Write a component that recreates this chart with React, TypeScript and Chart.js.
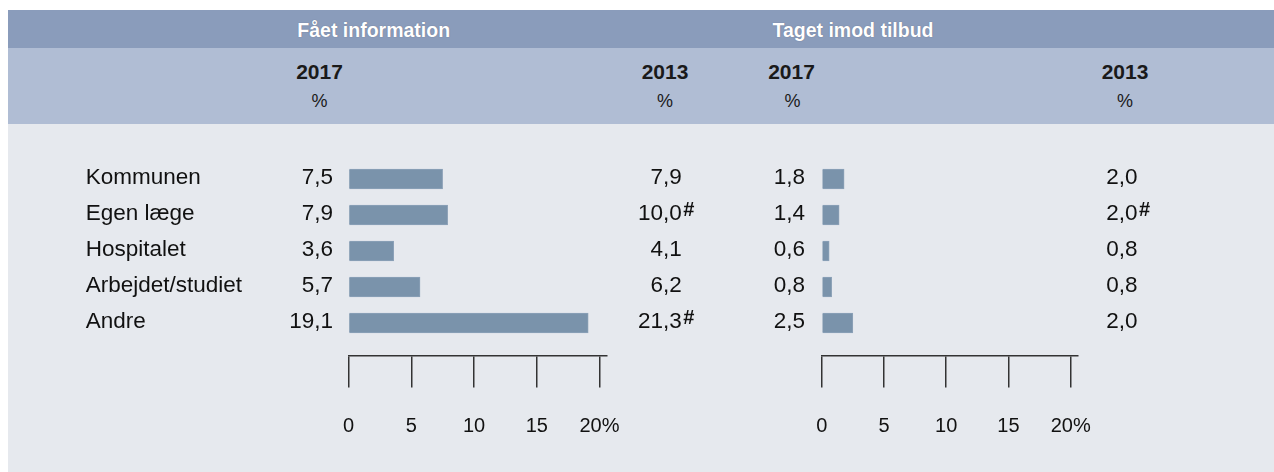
import React, { useEffect, useRef } from "react";
import { Chart, registerables } from "chart.js";

Chart.register(...registerables);

const categories = ["Kommunen", "Egen læge", "Hospitalet", "Arbejdet/studiet", "Andre"];
const infoValues2017 = [7.5, 7.9, 3.6, 5.7, 19.1];
const infoValues2013 = [7.9, 10.0, 4.1, 6.2, 21.3];
const infoMarks2013 = ["", "#", "", "", "#"];
const offerValues2017 = [1.8, 1.4, 0.6, 0.8, 2.5];
const offerValues2013 = [2.0, 2.0, 0.8, 0.8, 2.0];
const offerMarks2013 = ["", "#", "", "", ""];
const axisTicks = [0, 5, 10, 15, 20];
const axisTickLabels = ["0", "5", "10", "15", "20%"];
const panelTitles = ["Fået information", "Taget imod tilbud"];
const yearLabels = ["2017", "2013"];
const unitLabel = "%";

const FONT = '"Liberation Sans", Arial, Helvetica, sans-serif';
const TEXT = "#111111";
const BAR = "#7a93ab";
const fmt = (v: number) => v.toFixed(1).replace(".", ",");

type PanelProps = {
  left: number;
  top: number;
  width: number;
  height: number;
  zeroX: number;
  pxPerUnit: number;
  values17: number[];
  values13: number[];
  marks13: string[];
  showCategories: boolean;
  catX: number;
  v17X: number;
  v13X: number;
};

function Panel(p: PanelProps) {
  const ref = useRef<HTMLCanvasElement | null>(null);
  useEffect(() => {
    if (!ref.current) return;
    const axisMax = 20.6;
    const padLeft = p.zeroX;
    const padRight = p.width - p.zeroX - axisMax * p.pxPerUnit;
    const textPlugin = {
      id: "rowText",
      afterDatasetsDraw(chart: any) {
        const ctx = chart.ctx as CanvasRenderingContext2D;
        const ys = chart.scales.y;
        ctx.save();
        ctx.fillStyle = TEXT;
        categories.forEach((c, i) => {
          const y = ys.getPixelForValue(i) - 1;
          ctx.font = `22.5px ${FONT}`;
          ctx.textBaseline = "middle";
          if (p.showCategories) {
            ctx.textAlign = "left";
            ctx.fillText(c, p.catX, y);
          }
          ctx.textAlign = "right";
          ctx.fillText(fmt(p.values17[i]), p.v17X, y);
          ctx.fillText(fmt(p.values13[i]), p.v13X, y);
          if (p.marks13[i]) {
            ctx.font = `bold 20px ${FONT}`;
            ctx.textAlign = "left";
            ctx.textBaseline = "alphabetic";
            ctx.fillText(p.marks13[i], p.v13X + 1.5, y + 2);
          }
        });
        ctx.restore();
      },
    };
    const chart = new Chart(ref.current, {
      type: "bar",
      data: {
        datasets: [
          {
            data: p.values17.map((v, i) => ({ x: v, y: i })) as any,
            backgroundColor: BAR,
            borderColor: "#8da2b8",
            borderWidth: 1,
            barThickness: 20,
          },
        ],
      },
      options: {
        indexAxis: "y",
        animation: false,
        responsive: false,
        devicePixelRatio: 1,
        layout: { padding: { left: padLeft, right: padRight, top: 22.6, bottom: 33.9 } },
        plugins: { legend: { display: false }, tooltip: { enabled: false } },
        scales: {
          x: {
            type: "linear",
            min: 0,
            max: axisMax,
            afterBuildTicks: (s: any) => {
              s.ticks = axisTicks.map((v) => ({ value: v }));
            },
            afterFit: (s: any) => {
              s.height = 82.7;
            },
            ticks: {
              callback: (_v: any, idx: number) => axisTickLabels[idx] ?? "",
              color: TEXT,
              font: { family: FONT, size: 20 },
              padding: 26.7,
              maxRotation: 0,
              autoSkip: false,
            },
            grid: { drawOnChartArea: false, drawTicks: true, tickLength: 32, color: "#333333", lineWidth: 1.5 },
            border: { display: true, color: "#333333", width: 1.5 },
          },
          y: { type: "linear", min: -0.9, max: 4.9, reverse: true, offset: false, display: false },
        },
      } as any,
      plugins: [textPlugin],
    });
    return () => chart.destroy();
  }, []);
  return (
    <canvas
      ref={ref}
      width={p.width}
      height={p.height}
      style={{ position: "absolute", left: p.left, top: p.top, width: p.width, height: p.height }}
    />
  );
}

function Centered(props: { cx: number; cy: number; text: string; style: React.CSSProperties }) {
  return (
    <div
      style={{
        position: "absolute",
        left: props.cx - 150,
        width: 300,
        top: props.cy - 15,
        height: 30,
        lineHeight: "30px",
        textAlign: "center",
        whiteSpace: "nowrap",
        fontFamily: FONT,
        ...props.style,
      }}
    >
      {props.text}
    </div>
  );
}

export default function App() {
  const titleStyle: React.CSSProperties = {
    color: "#ffffff",
    fontWeight: "bold",
    fontSize: 19.5,
    textShadow: "0 0 1px rgba(70,70,90,0.6)",
  };
  const yearStyle: React.CSSProperties = { color: "#1a1a1a", fontWeight: "bold", fontSize: 21 };
  const unitStyle: React.CSSProperties = { color: "#1a1a1a", fontSize: 18 };
  return (
    <div
      style={{
        position: "fixed",
        left: 8,
        top: 10,
        right: 0,
        bottom: 0,
        background: "#e6e9ee",
        overflow: "hidden",
      }}
    >
      <div style={{ position: "absolute", left: 0, right: 0, top: 0, height: 38, background: "#8a9cbb" }} />
      <div style={{ position: "absolute", left: 0, right: 0, top: 38, height: 76, background: "#b0bdd4" }} />
      <Centered cx={365.7} cy={20} text={panelTitles[0]} style={titleStyle} />
      <Centered cx={845} cy={20} text={panelTitles[1]} style={titleStyle} />
      <Centered cx={311.5} cy={61.5} text={yearLabels[0]} style={yearStyle} />
      <Centered cx={657} cy={61.5} text={yearLabels[1]} style={yearStyle} />
      <Centered cx={783.5} cy={61.5} text={yearLabels[0]} style={yearStyle} />
      <Centered cx={1117} cy={61.5} text={yearLabels[1]} style={yearStyle} />
      <Centered cx={311.5} cy={90.5} text={unitLabel} style={unitStyle} />
      <Centered cx={657} cy={90.5} text={unitLabel} style={unitStyle} />
      <Centered cx={784.5} cy={90.5} text={unitLabel} style={unitStyle} />
      <Centered cx={1117} cy={90.5} text={unitLabel} style={unitStyle} />
      <Panel
        left={0}
        top={114}
        width={692}
        height={348}
        zeroX={340.5}
        pxPerUnit={12.55}
        values17={infoValues2017}
        values13={infoValues2013}
        marks13={infoMarks2013}
        showCategories={true}
        catX={77.7}
        v17X={325}
        v13X={673.7}
      />
      <Panel
        left={692}
        top={114}
        width={574}
        height={348}
        zeroX={121.7}
        pxPerUnit={12.45}
        values17={offerValues2017}
        values13={offerValues2013}
        marks13={offerMarks2013}
        showCategories={false}
        catX={0}
        v17X={105}
        v13X={437.5}
      />
    </div>
  );
}
